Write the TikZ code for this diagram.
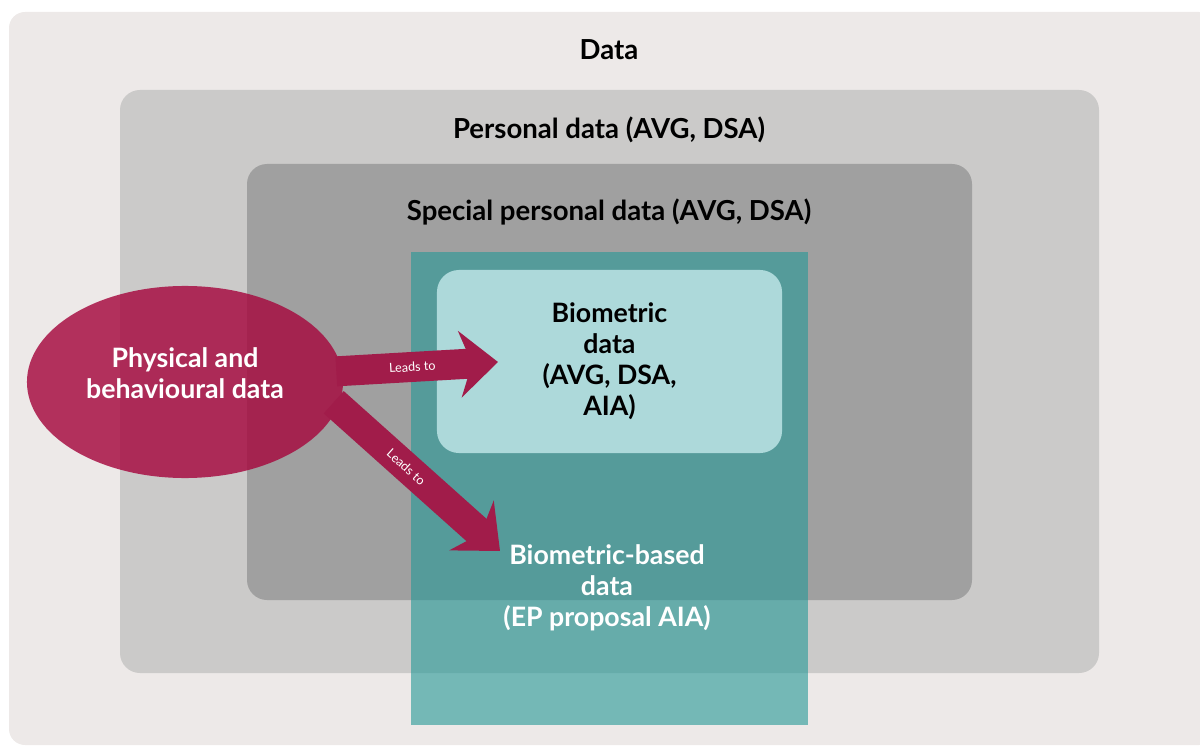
\documentclass[tikz,border=0pt]{standalone}
\usepackage{fontspec}
\setmainfont{Lato}
\usetikzlibrary{positioning,arrows.meta,shapes.geometric}
\definecolor{databg}{RGB}{237,233,232}
\definecolor{persgrey}{RGB}{203,202,201}
\definecolor{specgrey}{RGB}{160,160,160}
\definecolor{aiateal}{RGB}{36,152,150}
\definecolor{biolight}{RGB}{173,217,218}
\definecolor{crimson}{RGB}{161,28,74}
\definecolor{crimsonfill}{RGB}{166,8,62}
\newcommand{\bigfont}{\fontsize{19}{22}\selectfont\bfseries}
\tikzset{
  zonettl/.style={font=\fontsize{19.6}{22}\selectfont\bfseries,text=black,inner sep=0pt},
  biobox/.style={rounded corners=0.55cm,fill=biolight,minimum width=8.625cm,minimum height=4.575cm,align=center,font=\bigfont,inner sep=0pt},
  physell/.style={ellipse,fill=crimsonfill,fill opacity=0.82,text opacity=1,text=white,minimum width=7.9cm,minimum height=4.8cm,inner sep=0pt,align=center,font=\bigfont,text depth=0.45cm},
  basedtxt/.style={text=white,align=center,font=\bigfont,inner sep=0pt},
  leadsto/.style={crimson,line width=0.75cm,shorten <=-0.15cm,-{Stealth[length=0.95cm,width=1.65cm,inset=0.3cm]}},
  leadlbl/.style={text=white,font=\fontsize{9}{10}\selectfont,inner sep=0pt}
}

\begin{document}
\begin{tikzpicture}[x=0.025cm,y=-0.025cm]
  \useasboundingbox (0,0) rectangle (1200,747);
  % nested zones
  \fill[databg,rounded corners=0.4cm] (9,12) rectangle (1215,745);
  \fill[persgrey,rounded corners=0.5cm] (120,90) rectangle (1099,673);
  \fill[specgrey,rounded corners=0.5cm] (247,164) rectangle (972,600);
  \fill[aiateal,opacity=0.6] (411,252) rectangle (808,725);
  \node[zonettl] (datattl) at (609,50) {Data};
  \node[zonettl] (persttl) at (609,130) {Personal data (AVG, DSA)};
  \node[zonettl] (specttl) at (609,212) {Special personal data (AVG, DSA)};
  % boxes
  \node[biobox] (bio) at (609.5,361.5) {Biometric\\data\\(AVG, DSA,\\AIA)};
  \node[basedtxt] (based) at (607,588) {Biometric-based\\data\\(EP proposal AIA)};
  \node[physell] (phys) at (185,382) {Physical and\\behavioural data};
  \coordinate (tipbio) at (498,362);
  \coordinate (tipbased) at (500,551);
  \draw[leadsto] (phys.4) -- node[leadlbl,sloped,pos=0.45] {Leads to} (tipbio);
  \draw[leadsto] (phys.-9) -- node[leadlbl,sloped,pos=0.42] {Leads to} (tipbased);
\end{tikzpicture}
\end{document}
